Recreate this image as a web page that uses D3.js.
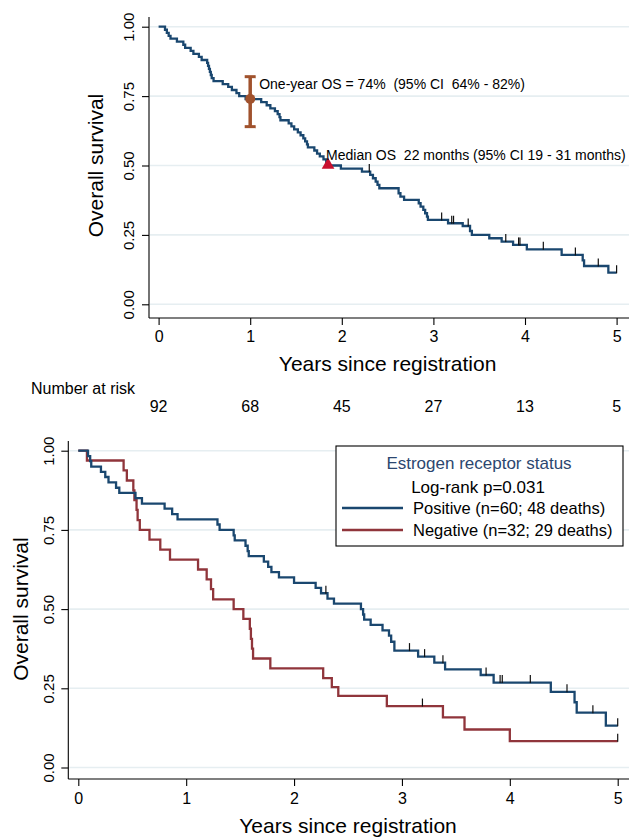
<!DOCTYPE html>
<html><head><meta charset="utf-8">
<script src="https://cdn.jsdelivr.net/npm/d3@7"></script>
<style>
body{margin:0;background:#fff}
text{font-family:"Liberation Sans",Arial,Helvetica,sans-serif;white-space:pre}
</style>
</head><body>
<svg id="c" width="629" height="838" xmlns="http://www.w3.org/2000/svg"></svg>
<script>
// ---------- data ----------
const xTicks = [0, 1, 2, 3, 4, 5];
const yTicks = [0, 0.25, 0.5, 0.75, 1];
const yTickLabels = ["0.00", "0.25", "0.50", "0.75", "1.00"];
const atRisk = [92, 68, 45, 27, 13, 5];
const xTitle = "Years since registration";
const yTitle = "Overall survival";

// overall KM curve (time of each step, survival after the step)
const allTimes = [0.07,0.09,0.11,0.13,0.20,0.27,0.29,0.35,0.38,0.44,0.47,0.53,0.54,0.55,0.56,0.57,0.58,0.60,0.70,0.76,0.80,0.85,0.88,0.95,
  1.12,1.18,1.22,1.27,1.30,1.32,1.33,1.42,1.45,1.48,1.52,1.55,1.58,1.60,1.62,1.63,1.70,1.73,1.76,1.80,1.83,1.86,1.99,
  2.22,2.31,2.34,2.37,2.39,2.41,2.62,2.64,2.68,2.84,2.86,2.89,2.91,2.93,2.94,3.16,3.32,3.40,3.42,3.61,3.745,3.87,4.02,4.40,4.63,4.645,4.91];
const allSurv = [0.989,0.978,0.967,0.957,0.946,0.935,0.924,0.913,0.902,0.891,0.880,0.870,0.859,0.848,0.837,0.826,0.815,0.804,0.793,0.783,0.772,0.761,0.750,0.739,
  0.728,0.717,0.706,0.696,0.685,0.674,0.663,0.652,0.641,0.630,0.619,0.609,0.598,0.587,0.576,0.565,0.554,0.543,0.533,0.522,0.511,0.500,0.489,
  0.478,0.466,0.454,0.442,0.430,0.418,0.400,0.388,0.376,0.364,0.352,0.340,0.328,0.316,0.304,0.292,0.282,0.264,0.250,0.238,0.226,0.214,0.198,0.178,0.158,0.138,0.114];
const allCensor = [2.30,3.09,3.20,3.22,3.38,3.79,3.93,3.945,4.20,4.55,4.80,5.0];
const allEnd = 5.0;

const oneYear = {t: 1, s: 0.74, lo: 0.64, hi: 0.82};
const median = {t: 1.85, s: 0.50};
const oneYearText = "One-year OS = 74%  (95% CI  64% - 82%)";
const medianText = "Median OS  22 months (95% CI 19 - 31 months)";

// by estrogen receptor status
const groups = ["Positive (n=60; 48 deaths)", "Negative (n=32; 29 deaths)"];
const posTimes = [0.09,0.11,0.12,0.21,0.25,0.28,0.35,0.38,0.53,0.59,0.80,0.87,0.92,1.29,1.31,1.44,1.45,1.55,1.57,1.58,1.72,1.76,1.79,1.86,2.00,
  2.20,2.25,2.31,2.37,2.62,2.64,2.65,2.71,2.82,2.88,2.90,2.93,3.15,3.30,3.40,3.73,3.85,4.38,4.60,4.62,4.89];
const posSurv = [0.983,0.967,0.950,0.933,0.917,0.900,0.883,0.867,0.850,0.833,0.817,0.800,0.783,0.767,0.750,0.733,0.717,0.700,0.683,0.667,0.650,0.633,0.617,0.600,0.583,
  0.567,0.550,0.533,0.517,0.500,0.483,0.467,0.450,0.433,0.416,0.397,0.369,0.350,0.331,0.310,0.292,0.268,0.239,0.206,0.173,0.132];
const posCensor = [2.295,3.07,3.21,3.38,3.78,3.91,3.93,4.19,4.53,4.77,5.0];
const negTimes = [0.08,0.42,0.45,0.51,0.52,0.54,0.55,0.57,0.66,0.76,0.85,1.11,1.19,1.23,1.25,1.44,1.53,1.59,1.60,1.61,1.62,1.78,2.27,2.35,2.41,2.86,3.38,3.58,4.00];
const negSurv = [0.969,0.938,0.906,0.875,0.844,0.813,0.781,0.750,0.719,0.688,0.656,0.625,0.594,0.563,0.531,0.500,0.469,0.438,0.406,0.375,0.344,0.313,0.282,0.254,0.226,0.194,0.158,0.120,0.083];
const negCensor = [3.19, 5.0];
const groupEnd = 5.0;
const legendTitle = "Estrogen receptor status";
const legendSub = "Log-rank p=0.031";

// ---------- styles ----------
const BLUE = "#1a476f", RED = "#90353b", SIENNA = "#a0522d", CRIMSON = "#c8102e", GRID = "#e6eef1";
const svg = d3.select("#c");

function stepData(times, surv, end) {
  const pts = [[0, 1]];
  times.forEach((t, i) => pts.push([t, surv[i]]));
  pts.push([end, surv[surv.length - 1]]);
  return pts;
}
function survAt(times, surv, t) {
  let s = 1;
  for (let i = 0; i < times.length; i++) if (times[i] <= t) s = surv[i];
  return s;
}

function panel(cfg) {
  const g = svg.append("g");
  const x = d3.scaleLinear().domain([0, 5]).range([cfg.x0, cfg.x5]);
  const y = d3.scaleLinear().domain([0, 1]).range([cfg.y0, cfg.y1]);
  g.append("g").selectAll("line").data(yTicks).join("line")
    .attr("x1", cfg.axisX + 1).attr("x2", 629)
    .attr("y1", d => y(d)).attr("y2", d => y(d))
    .attr("stroke", GRID).attr("stroke-width", 1.6);
  g.append("line").attr("x1", cfg.axisX).attr("x2", cfg.axisX).attr("y1", cfg.axisTop).attr("y2", cfg.axisY)
    .attr("stroke", "#000").attr("stroke-width", 1.1);
  g.append("line").attr("x1", cfg.axisX).attr("x2", 629).attr("y1", cfg.axisY).attr("y2", cfg.axisY)
    .attr("stroke", "#000").attr("stroke-width", 1.1);
  const ya = g.append("g").attr("transform", `translate(${cfg.axisX},0)`)
    .call(d3.axisLeft(y).tickValues(yTicks).tickSize(7).tickSizeOuter(0).tickFormat((d, i) => yTickLabels[i]));
  ya.select(".domain").remove();
  ya.selectAll(".tick line").attr("stroke", "#000").attr("stroke-width", 1.1);
  ya.selectAll(".tick text").attr("x", null).attr("dy", null)
    .attr("transform", `translate(${cfg.yLabX - cfg.axisX},0) rotate(-90)`)
    .attr("text-anchor", "middle").attr("dominant-baseline", "central")
    .style("font-size", "15px").attr("fill", "#000");
  const xa = g.append("g").attr("transform", `translate(0,${cfg.axisY})`)
    .call(d3.axisBottom(x).tickValues(xTicks).tickSize(7).tickSizeOuter(0).tickFormat(d3.format("d")));
  xa.select(".domain").remove();
  xa.selectAll(".tick line").attr("stroke", "#000").attr("stroke-width", 1.1);
  xa.selectAll(".tick text").attr("y", cfg.xLabY - cfg.axisY).attr("dy", null)
    .style("font-size", "16px").attr("fill", "#000");
  g.append("text").attr("x", (cfg.x0 + cfg.x5) / 2).attr("y", cfg.xTitleY).attr("text-anchor", "middle")
    .style("font-size", "21px").text(xTitle);
  g.append("text").attr("transform", `translate(${cfg.yTitleX},${(cfg.y0 + cfg.y1) / 2}) rotate(-90)`)
    .attr("text-anchor", "middle").attr("dominant-baseline", "central")
    .style("font-size", "21px").text(yTitle);
  return {g, x, y};
}

function curve(p, times, surv, end, censor, color) {
  const line = d3.line().x(d => p.x(d[0])).y(d => p.y(d[1])).curve(d3.curveStepAfter);
  p.g.append("path").attr("d", line(stepData(times, surv, end)))
    .attr("fill", "none").attr("stroke", color).attr("stroke-width", 2.3).attr("stroke-linejoin", "miter");
  p.g.append("g").selectAll("line").data(censor).join("line")
    .attr("x1", d => p.x(d)).attr("x2", d => p.x(d))
    .attr("y1", d => p.y(survAt(times, surv, d)) - 7.5).attr("y2", d => p.y(survAt(times, surv, d)) + 0.5)
    .attr("stroke", "#111").attr("stroke-width", 1.2);
}

// ---------- top panel ----------
const topP = panel({x0: 158.6, x5: 616.6, y0: 304.3, y1: 26.7, axisX: 149, axisY: 318, axisTop: 17,
  yLabX: 128.5, xLabY: 342, xTitleY: 371, yTitleX: 95});
curve(topP, allTimes, allSurv, allEnd, allCensor, BLUE);

const cx = topP.x(oneYear.t);
topP.g.append("line").attr("x1", cx).attr("x2", cx).attr("y1", topP.y(oneYear.hi)).attr("y2", topP.y(oneYear.lo))
  .attr("stroke", SIENNA).attr("stroke-width", 3.5);
[oneYear.hi, oneYear.lo].forEach(v => topP.g.append("line")
  .attr("x1", cx - 5.5).attr("x2", cx + 5.5).attr("y1", topP.y(v)).attr("y2", topP.y(v))
  .attr("stroke", SIENNA).attr("stroke-width", 3));
topP.g.append("circle").attr("cx", cx).attr("cy", topP.y(oneYear.s)).attr("r", 5).attr("fill", SIENNA);
topP.g.append("text").attr("x", cx + 9).attr("y", topP.y(oneYear.hi) + 12.5).style("font-size", "14px").text(oneYearText);

const mx = topP.x(median.t), my = topP.y(median.s);
topP.g.append("path").attr("d", d3.symbol().type(d3.symbolTriangle).size(70)())
  .attr("transform", `translate(${mx},${my - 0.5})`).attr("fill", CRIMSON);
topP.g.append("text").attr("x", mx - 2).attr("y", my - 6).style("font-size", "14px").text(medianText);

svg.append("text").attr("x", 31).attr("y", 394).style("font-size", "16px").text("Number at risk");
svg.append("g").selectAll("text").data(atRisk).join("text")
  .attr("x", (d, i) => topP.x(xTicks[i])).attr("y", 412).attr("text-anchor", "middle")
  .style("font-size", "16px").text(d => d);

// ---------- bottom panel ----------
const botP = panel({x0: 78.3, x5: 617.7, y0: 767.5, y1: 450.7, axisX: 68.3, axisY: 779, axisTop: 441,
  yLabX: 48, xLabY: 804, xTitleY: 833, yTitleX: 20});
curve(botP, negTimes, negSurv, groupEnd, negCensor, RED);
curve(botP, posTimes, posSurv, groupEnd, posCensor, BLUE);

const lg = svg.append("g");
lg.append("rect").attr("x", 336).attr("y", 446).attr("width", 287).attr("height", 100)
  .attr("fill", "#fff").attr("stroke", "#000").attr("stroke-width", 1.1);
lg.append("text").attr("x", 479).attr("y", 469).attr("text-anchor", "middle").style("font-size", "17px")
  .attr("fill", "#2c4770").text(legendTitle);
lg.append("text").attr("x", 478).attr("y", 493).attr("text-anchor", "middle").style("font-size", "17px").text(legendSub);
[BLUE, RED].forEach((c, i) => {
  const yy = 508 + i * 22;
  lg.append("line").attr("x1", 342).attr("x2", 403).attr("y1", yy).attr("y2", yy).attr("stroke", c).attr("stroke-width", 2.3);
  lg.append("text").attr("x", 413).attr("y", yy + 6).style("font-size", "16.5px").text(groups[i]);
});
</script>
</body></html>
